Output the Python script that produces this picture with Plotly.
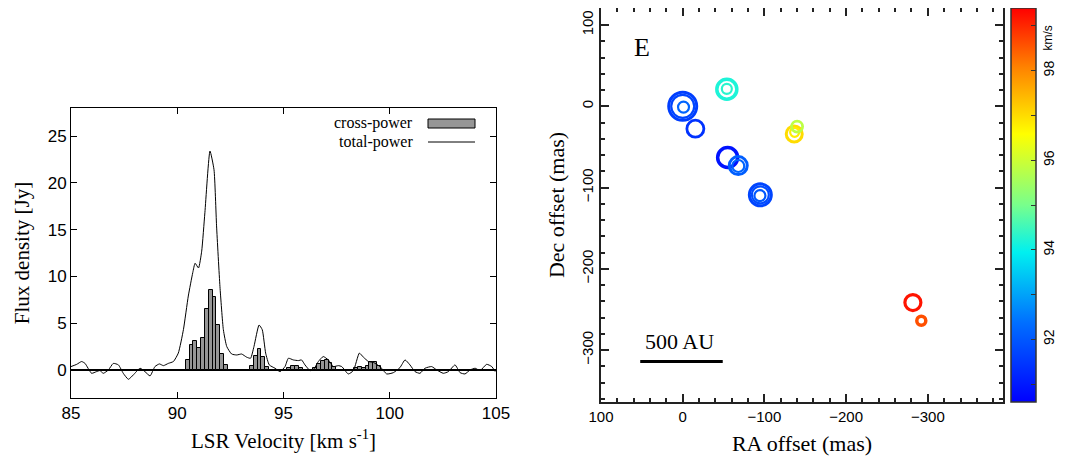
import plotly.graph_objects as go

# ---------------- Left panel: spectrum ----------------
bar_vel = [90.49, 90.67, 90.85, 91.03, 91.21, 91.39, 91.57, 91.75, 91.93, 92.11, 92.29,
           93.51, 93.69, 93.87, 94.05, 94.23,
           95.27, 95.45, 95.63, 95.81,
           96.49, 96.67, 96.85, 97.03, 97.21, 97.39,
           98.41, 98.59, 98.77, 98.95, 99.13, 99.31, 99.49]
bar_flux = [1.07, 2.68, 3.1, 2.3, 3.4, 6.5, 8.55, 7.8, 4.8, 1.7, 0.5,
            0.46, 1.5, 2.2, 1.4, 0.36,
            0.25, 0.45, 0.45, 0.25,
            0.25, 0.6, 1.0, 1.07, 0.7, 0.35,
            0.25, 0.35, 0.25, 0.45, 0.8, 0.8, 0.45]
bar_width = 0.18

tp_vel = [85.0, 85.27, 85.5, 85.66, 85.97, 86.2, 86.36, 86.52, 86.76, 86.99, 87.23, 87.46,
          87.7, 87.93, 88.25, 88.48, 88.72, 88.95, 89.16, 89.35, 89.58, 89.82, 90.05, 90.29,
          90.52, 90.73, 90.84, 91.0, 91.15, 91.3, 91.54, 91.73, 91.85, 92.01, 92.17, 92.33,
          92.56, 92.8, 93.03, 93.27, 93.45, 93.61, 93.85, 94.0, 94.16, 94.33, 94.6, 94.84,
          95.07, 95.23, 95.46, 95.7, 95.85, 96.01, 96.25, 96.4, 96.64, 96.87, 97.11, 97.35,
          97.58, 97.74, 98.05, 98.29, 98.57, 98.76, 99.0, 99.23, 99.54, 99.86, 100.17, 100.48,
          100.72, 100.95, 101.19, 101.42, 101.66, 101.97, 102.21, 102.52, 102.76, 103.07,
          103.31, 103.54, 103.78, 104.02, 104.25, 104.56, 104.8, 104.96]
tp_flux = [0.36, 0.6, 0.9, 0.7, -0.36, -0.18, -0.07, -0.36, 0.0, 0.7, 0.54, -0.36,
           -1.0, -0.54, 0.18, -0.18, -0.64, 0.36, 0.64, 0.46, 0.7, 0.9, 1.8, 4.3,
           7.9, 10.4, 11.4, 10.9, 12.7, 16.8, 23.4, 21.4, 15.4, 8.9, 4.3, 2.5,
           1.7, 1.6, 1.7, 1.36, 1.25, 2.5, 4.8, 4.3, 1.8, 0.54, 0.18, -0.18,
           0.36, 1.25, 1.07, 1.0, 1.07, 0.54, -0.07, 0.0, 0.9, 1.43, 1.07, 0.36,
           0.46, 0.36, -0.43, -0.07, 1.8, 1.36, 0.9, 0.8, 0.36, -0.43, -0.29, 0.25,
           1.07, 0.54, -0.18, -0.36, 0.18, 0.36, 0.0, -0.36, -0.18, 0.54,
           -0.29, -0.43, 0.0, 0.18, -0.07, 0.6, 0.36, -0.18]

# ---------------- Right panel: maser spot map ----------------
spot_ra = [0, 0, -1, -15.5, -54, -54, -55, -68, -68, -95, -95, -94.5, -136.5, -137, -140, -281.7, -292]
spot_dec = [0, 0, -1, -27.6, 21, 21.5, -63, -73, -73.5, -109, -109, -110, -34, -32, -25, -241.6, -264]
spot_vel = [91.6, 91.7, 92.2, 91.4, 94.2, 94.3, 90.9, 92.1, 92.2, 91.7, 91.8, 92.0, 97.0, 96.8, 95.8, 99.2, 98.6]
spot_size = [28, 23, 11, 17, 20, 10, 20, 18, 12, 22, 17, 11, 16, 9, 11, 16, 9]
spot_lw = [3, 2.2, 2.2, 2.8, 3.5, 2.2, 3.5, 3, 2.2, 3, 2.2, 2.2, 3, 2.2, 2.8, 3.2, 3.5]

vel_min, vel_max = 90.6, 99.4
cbar_tickvals = [91, 92, 93, 94, 95, 96, 97, 98, 99]
cbar_ticktext = ["", "92", "", "94", "", "96", "", "98", ""]

colorscale = [[0.0, "rgb(0,0,255)"], [0.2, "rgb(0,110,255)"], [0.38, "rgb(0,240,240)"],
              [0.5, "rgb(120,255,140)"], [0.68, "rgb(255,255,0)"], [0.85, "rgb(255,130,0)"],
              [1.0, "rgb(255,0,0)"]]

serif = "Liberation Serif, Times New Roman, serif"
sans = "Liberation Sans, Arial, sans-serif"

# The page body has an 8 px margin; figure pixels = target pixels - 8
OFF = 8
W, H = 1067 - OFF, 461 - OFF


def px(x):
    return min(max((x - OFF) / W, 0.0), 1.0)


def py(y):
    return min(max(1 - (y - OFF) / H, 0.0), 1.0)


fig = go.Figure()

fig.add_trace(go.Bar(x=bar_vel, y=bar_flux, width=bar_width,
                     marker=dict(color="rgb(150,150,150)", line=dict(color="black", width=1)),
                     xaxis="x", yaxis="y", showlegend=False))
fig.add_trace(go.Scatter(x=tp_vel, y=tp_flux, mode="lines",
                         line=dict(color="black", width=1, shape="spline", smoothing=0.5),
                         xaxis="x", yaxis="y", showlegend=False))

fig.add_trace(go.Scatter(
    x=spot_ra, y=spot_dec, mode="markers", xaxis="x2", yaxis="y2", showlegend=False,
    marker=dict(symbol="circle-open", size=spot_size, color=spot_vel, opacity=1,
                colorscale=colorscale, cmin=vel_min, cmax=vel_max,
                line=dict(width=spot_lw),
                colorbar=dict(x=px(1011), xanchor="left", y=py(205), yanchor="middle",
                              len=394 / H, lenmode="fraction", thickness=25,
                              outlinewidth=1.5, outlinecolor="#333",
                              tickvals=cbar_tickvals, ticktext=cbar_ticktext,
                              ticks="inside", ticklen=5, tickcolor="#333",
                              tickangle=-90, tickfont=dict(family=sans, size=14, color="black"),
                              xpad=0, ypad=0))))

axis_left = dict(showline=True, linecolor="black", linewidth=1, mirror="allticks",
                 ticks="inside", tickcolor="black", showgrid=False, automargin=False)
axis_right = dict(showline=True, linecolor="#222", linewidth=2, mirror="allticks",
                  ticks="inside", tickcolor="#222", tickwidth=1.5, showgrid=False, automargin=False)

fig.update_layout(
    width=W, height=H, margin=dict(l=0, r=0, t=0, b=0, autoexpand=False),
    plot_bgcolor="white", paper_bgcolor="white", bargap=0,
    xaxis=dict(domain=[px(71), px(496)], range=[85, 105], tickvals=[85, 90, 95, 100, 105],
               ticklen=6, zeroline=False, anchor="y",
               tickfont=dict(family=sans, size=17, color="black"),
               title=dict(text="LSR Velocity [km s<sup>-1</sup>]",
                          font=dict(family=serif, size=21, color="black"), standoff=10),
               **axis_left),
    yaxis=dict(domain=[py(398), py(108)], range=[-3, 28], tickvals=[0, 5, 10, 15, 20, 25],
               ticklen=6, zeroline=True, zerolinecolor="black", zerolinewidth=1.5, anchor="x",
               tickfont=dict(family=sans, size=17, color="black"),
               title=dict(text="Flux density [Jy]",
                          font=dict(family=serif, size=21, color="black"), standoff=12),
               **axis_left),
    xaxis2=dict(domain=[px(601), px(1003)], range=[100, -392], tickvals=[100, 0, -100, -200, -300],
                ticklen=8, zeroline=False, anchor="y2",
                minor=dict(dtick=20, tick0=0, ticks="inside", ticklen=4, tickcolor="#222"),
                tickfont=dict(family=sans, size=15, color="black"),
                title=dict(text="RA offset (mas)",
                           font=dict(family=serif, size=22, color="black"), standoff=12),
                **axis_right),
    yaxis2=dict(domain=[py(402), py(8)], range=[-364, 121], tickvals=[100, 0, -100, -200, -300],
                ticklen=8, zeroline=False, anchor="x2", tickangle=-90,
                minor=dict(dtick=20, tick0=0, ticks="inside", ticklen=4, tickcolor="#222"),
                tickfont=dict(family=sans, size=15, color="black"),
                title=dict(text="Dec offset (mas)",
                           font=dict(family=serif, size=22, color="black"), standoff=8),
                **axis_right),
)

# Legend (text left of symbol, as in the reference)
fig.add_annotation(x=px(415), y=py(123), xref="paper", yref="paper", xanchor="right",
                   yanchor="middle", showarrow=False, text="cross-power",
                   font=dict(family=serif, size=16, color="black"))
fig.add_annotation(x=px(415), y=py(142), xref="paper", yref="paper", xanchor="right",
                   yanchor="middle", showarrow=False, text="total-power",
                   font=dict(family=serif, size=16, color="black"))
fig.add_shape(type="rect", xref="paper", yref="paper", x0=px(428), x1=px(475),
              y0=py(128), y1=py(119), fillcolor="rgb(150,150,150)",
              line=dict(color="black", width=1))
fig.add_shape(type="line", xref="paper", yref="paper", x0=px(428), x1=px(475),
              y0=py(142), y1=py(142), line=dict(color="black", width=1))

# Map annotations
fig.add_annotation(x=50, y=72, xref="x2", yref="y2", showarrow=False, text="E",
                   font=dict(family=serif, size=26, color="black"))
fig.add_annotation(x=4, y=-290, xref="x2", yref="y2", showarrow=False, text="500 AU",
                   font=dict(family=serif, size=22, color="black"))
fig.add_shape(type="line", xref="x2", yref="y2", x0=52, x1=-49, y0=-314, y1=-314,
              line=dict(color="black", width=3))
fig.add_annotation(x=px(1057), y=py(24), xref="paper", yref="paper", showarrow=False,
                   text="km/s", textangle=-90, font=dict(family=sans, size=12, color="black"))

fig.write_html("out.html")
